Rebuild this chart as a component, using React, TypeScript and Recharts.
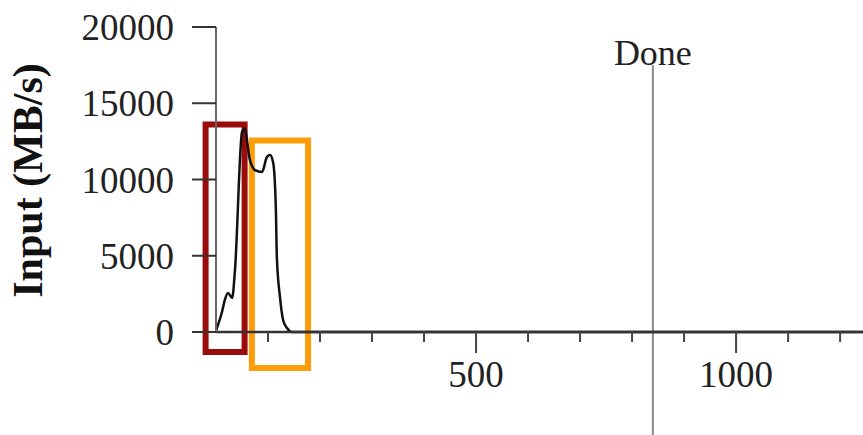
import { Line, LineChart, ReferenceArea, ReferenceLine, XAxis, YAxis } from "recharts";

const FONT = '"Liberation Serif", "Times New Roman", serif';

// time (s) vs input rate (MB/s)
const timeSec = [0, 11.5, 17, 23, 31, 36.5, 50, 55, 65, 75, 88.5, 98, 104, 110, 115, 117, 123, 129, 136.5, 146, 300, 600, 900, 1244];
const inputMBs = [100, 1310, 2100, 2560, 2230, 4070, 13100, 13350, 11300, 10620, 10490, 11480, 11600, 11080, 8200, 4920, 2300, 790, 260, 0, 0, 0, 0, 0];

const yTicks = [0, 5000, 10000, 15000, 20000];
const xTicks = [100, 200, 300, 400, 500, 600, 700, 800, 900, 1000, 1100, 1200];
const xMax = 1244;

const doneAt = 840;

// highlight boxes: [x1, x2, yBottom, yTop, colour]
const boxes: [number, number, number, number, string][] = [
  [-20, 55, -1310, 13600, "#9a0b0b"],
  [69, 177, -2360, 12560, "#ff9c0a"],
];

const data = timeSec.map((t, i) => ({ t, v: inputMBs[i] }));

function XTick(props: any) {
  const { x, y, payload } = props;
  const major = payload.value % 500 === 0;
  return (
    <g>
      <line x1={x} x2={x} y1={y} y2={y + (major ? 21 : 10)} stroke="#444" strokeWidth={2} />
      {major && (
        <text x={x} y={y + 55} textAnchor="middle" fontSize={37} fill="#222" fontFamily={FONT}>
          {payload.value}
        </text>
      )}
    </g>
  );
}

function YLabel(props: any) {
  const { viewBox } = props;
  const cx = viewBox.x + 42;
  const cy = viewBox.y + viewBox.height / 2 + 1;
  return (
    <text
      x={cx}
      y={cy}
      transform={`rotate(-90, ${cx}, ${cy})`}
      textAnchor="middle"
      fontSize={42}
      fontWeight="bold"
      fill="#111"
      fontFamily={FONT}
    >
      Input (MB/s)
    </text>
  );
}

export default function App() {
  return (
    <div style={{ position: "absolute", left: 0, top: 0, width: 863, height: 435, background: "#fff" }}>
      <LineChart width={863} height={435} data={data} margin={{ top: 27, right: 0, left: 0, bottom: 0 }}>
        <XAxis
          dataKey="t"
          type="number"
          domain={[0, xMax]}
          ticks={xTicks}
          allowDataOverflow
          height={103}
          tickLine={false}
          tickSize={0}
          tickMargin={0}
          tick={<XTick />}
          axisLine={{ stroke: "#333", strokeWidth: 2.5 }}
        />
        <YAxis
          type="number"
          domain={[0, 20000]}
          ticks={yTicks}
          width={216}
          tickSize={24}
          tickMargin={18}
          tickLine={{ stroke: "#333", strokeWidth: 2 }}
          axisLine={{ stroke: "#666", strokeWidth: 2 }}
          tick={{ fontSize: 37, fill: "#222", fontFamily: FONT }}
          label={<YLabel />}
        />
        <ReferenceLine
          segment={[
            { x: doneAt, y: 17500 },
            { x: doneAt, y: -6750 },
          ]}
          ifOverflow="visible"
          stroke="#8a8a8a"
          strokeWidth={2}
          label={{ value: "Done", position: "top", offset: 0, fontSize: 36, fill: "#222", fontFamily: FONT }}
        />
        <Line
          dataKey="v"
          type="monotone"
          stroke="#111"
          strokeWidth={2.5}
          dot={false}
          isAnimationActive={false}
        />
        {boxes.map(([x1, x2, y1, y2, c]) => (
          <ReferenceArea
            key={c}
            x1={x1}
            x2={x2}
            y1={y1}
            y2={y2}
            ifOverflow="visible"
            fill="none"
            stroke={c}
            strokeWidth={6}
          />
        ))}
      </LineChart>
    </div>
  );
}
